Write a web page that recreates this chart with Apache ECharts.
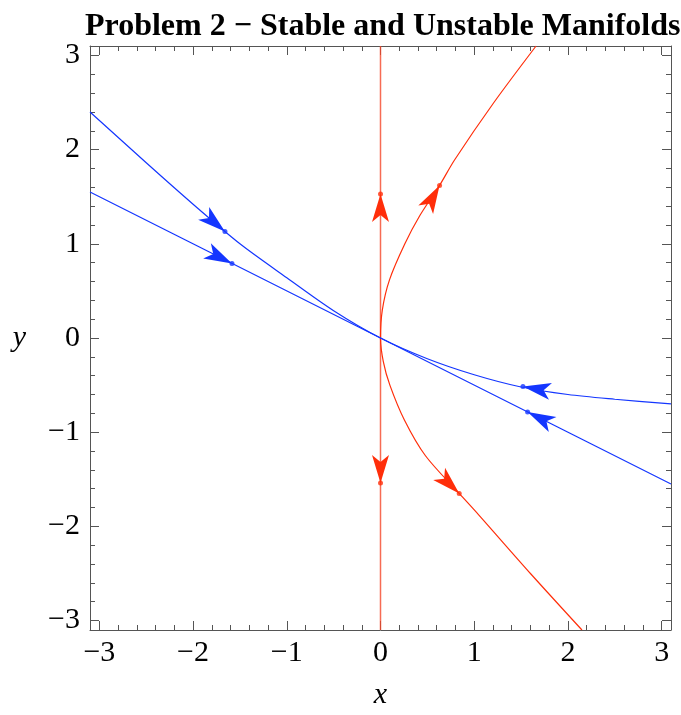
<!DOCTYPE html>
<html>
<head>
<meta charset="utf-8">
<script src="https://cdn.jsdelivr.net/npm/echarts@6/dist/echarts.min.js"></script>
<style>
html, body { margin: 0; padding: 0; background: #fff; }
#chart { width: 681px; height: 715px; }
</style>
</head>
<body>
<div id="chart"></div>
<script>
// tick labels
var xTicks = [-3, -2, -1, 0, 1, 2, 3]
var yTicks = [-3, -2, -1, 0, 1, 2, 3]

// stable manifolds (blue), [x, y]
var blueCurve = [[-3.1, 2.40], [-2.5, 1.86], [-2.0, 1.42], [-1.5, 1.00], [-1.0, 0.64], [-0.5, 0.29], [0, 0],
  [0.5, -0.22], [1.0, -0.39], [1.5, -0.52], [2.0, -0.60], [2.5, -0.65], [3.1, -0.70]]
var blueLine = [[-3.1, 1.55], [0, 0], [3.1, -1.55]]

// unstable manifolds (red), [x, y]
var redLine = [[0, -3.1], [0, 3.1]]
var redCurve = [[2.15, -3.1], [1.60, -2.5], [1.05, -1.88], [0.84, -1.65], [0.48, -1.25], [0.255, -0.87],
  [0.10, -0.5], [0.03, -0.25], [0, 0], [0.02, 0.3], [0.096, 0.617], [0.26, 1.0], [0.42, 1.3],
  [0.63, 1.62], [0.79, 1.89], [1.21, 2.5], [1.66, 3.1]]

// arrows: [tipX, tipY, fromX, fromY]
var blueArrows = [[-1.66, 1.13, -2.0, 1.42], [-1.585, 0.79, -2.0, 1.0], [1.52, -0.515, 2.0, -0.60], [1.57, -0.785, 2.0, -1.0]]
var redArrows = [[0, 1.53, 0, 1.0], [0, -1.54, 0, -1.0], [0.63, 1.62, 0.47, 1.34], [0.84, -1.65, 0.54, -1.36]]

var BLUE = '#1436ff'
var RED = '#ff2e0a'
var FRAME = '#555555'
var FONT = '"Liberation Serif", "Times New Roman", serif'

var minorTicks = []
for (var i = -30; i <= 30; i += 2) {
  if (i % 10 !== 0 && Math.abs(i) < 31) minorTicks.push(i / 10)
}

function fmt(v) {
  return (v < 0 ? '\u2212' : '') + Math.abs(v)
}

function axis(kind, pos, grid, ticks, len, labels) {
  var a = {
    type: 'value',
    gridIndex: grid,
    position: pos,
    min: -3.1,
    max: 3.1,
    axisLine: { show: grid === 0, onZero: false, lineStyle: { color: FRAME, width: 1 } },
    axisTick: { show: true, inside: true, length: len, customValues: ticks, lineStyle: { color: FRAME, width: 1 } },
    axisLabel: { show: false },
    splitLine: { show: false }
  }
  if (labels) {
    a.axisLabel = {
      show: true,
      customValues: ticks,
      formatter: fmt,
      color: '#000',
      fontFamily: FONT,
      fontSize: 30,
      margin: kind === 'x' ? 8 : 10
    }
    a.name = kind
    a.nameLocation = 'middle'
    a.nameTextStyle = { fontFamily: FONT, fontStyle: 'italic', fontSize: 30, color: '#000' }
    if (kind === 'x') {
      a.nameGap = 50
    } else {
      a.nameGap = 64
      a.nameRotate = 0
    }
  }
  return a
}

function arrowSeries(data, color) {
  return {
    type: 'custom',
    xAxisIndex: 0,
    yAxisIndex: 0,
    z: 5,
    data: data,
    encode: { x: 0, y: 1 },
    renderItem: function (params, api) {
      var tip = api.coord([api.value(0), api.value(1)])
      var from = api.coord([api.value(2), api.value(3)])
      var dx = tip[0] - from[0], dy = tip[1] - from[1]
      var len = Math.sqrt(dx * dx + dy * dy)
      dx /= len; dy /= len
      var nx = -dy, ny = dx
      var L = 28, W = 8.5, N = 7
      return {
        type: 'polygon',
        shape: {
          points: [
            tip,
            [tip[0] - L * dx + W * nx, tip[1] - L * dy + W * ny],
            [tip[0] - (L - N) * dx, tip[1] - (L - N) * dy],
            [tip[0] - L * dx - W * nx, tip[1] - L * dy - W * ny]
          ]
        },
        style: { fill: color }
      }
    }
  }
}

function dots(data, color) {
  return {
    type: 'scatter',
    xAxisIndex: 0,
    yAxisIndex: 0,
    z: 6,
    symbol: 'circle',
    symbolSize: 5,
    itemStyle: { color: color },
    data: data.map(function (d) { return [d[0], d[1]] })
  }
}

function line(data, color, width, smooth) {
  return {
    type: 'line',
    xAxisIndex: 0,
    yAxisIndex: 0,
    showSymbol: false,
    smooth: smooth,
    lineStyle: { color: color, width: width },
    data: data
  }
}

var chart = echarts.init(document.getElementById('chart'))
var rect = { left: 90, right: 10, top: 46, bottom: 85 }
chart.setOption({
  animation: false,
  backgroundColor: '#fff',
  title: {
    text: 'Problem 2 \u2212 Stable and Unstable Manifolds',
    left: 80,
    top: 6,
    textStyle: { fontFamily: FONT, fontWeight: 'bold', fontSize: 32, color: '#000' }
  },
  grid: [
    Object.assign({}, rect),
    Object.assign({}, rect)
  ],
  xAxis: [
    axis('x', 'bottom', 0, xTicks, 9, true),
    axis('x', 'top', 0, xTicks, 9, false),
    axis('x', 'bottom', 1, minorTicks, 5, false),
    axis('x', 'top', 1, minorTicks, 5, false)
  ],
  yAxis: [
    axis('y', 'left', 0, yTicks, 9, true),
    axis('y', 'right', 0, yTicks, 9, false),
    axis('y', 'left', 1, minorTicks, 5, false),
    axis('y', 'right', 1, minorTicks, 5, false)
  ],
  series: [
    line(redLine, 'rgba(245, 70, 40, 0.8)', 1.5, false),
    line(redCurve, RED, 1.2, 0.3),
    line(blueLine, BLUE, 1.2, false),
    line(blueCurve, BLUE, 1.2, 0.3),
    arrowSeries(blueArrows, BLUE),
    arrowSeries(redArrows, RED),
    dots(blueArrows, BLUE),
    dots(redArrows, RED)
  ]
})
</script>
</body>
</html>
